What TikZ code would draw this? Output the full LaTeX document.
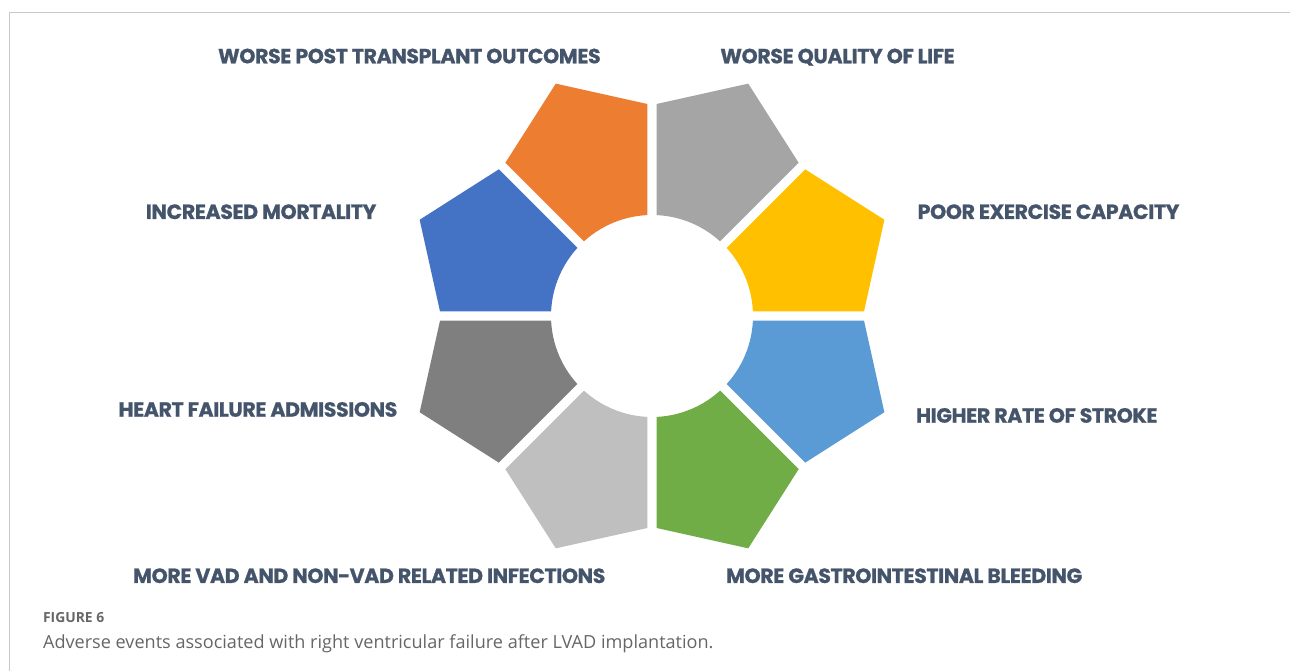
\documentclass[tikz,border=0pt]{standalone}
\usepackage{fontspec}
\usepackage{tikz}
\usetikzlibrary{calc}
\newfontfamily\labelfont{Poppins}[BoldFeatures={FakeBold=0.8, LetterSpace=-2}]
\newfontfamily\captionfont{Open Sans}
\definecolor{textblue}{HTML}{44546A}
\definecolor{framegrey}{HTML}{C8C8C8}
\definecolor{capgrey}{HTML}{666666}
\definecolor{segyellow}{HTML}{FFC000}
\definecolor{seggrey}{HTML}{A5A5A5}
\definecolor{segorange}{HTML}{ED7D31}
\definecolor{segblue}{HTML}{4472C4}
\definecolor{segdark}{HTML}{7F7F7F}
\definecolor{seglight}{HTML}{BFBFBF}
\definecolor{seggreen}{HTML}{70AD47}
\definecolor{segsky}{HTML}{5B9BD5}

\begin{document}
\begin{tikzpicture}[x=0.02cm, y=0.02cm,
    outcome/.style={font=\labelfont\bfseries\fontsize{11.7}{14}\selectfont, text=textblue, inner sep=0pt}]

    \useasboundingbox (0, 0) rectangle (1290, 671);

    \draw[framegrey, line width=0.75pt] (9.3, 0) -- (9.3, 658.3) -- (1290, 658.3);

    \foreach \ang/\col in {0/segyellow, 45/seggrey, 90/segorange, 135/segblue,
        180/segdark, 225/seglight, 270/seggreen, 315/segsky} {
        \fill[\col, shift={(652, 355)}, rotate=\ang] (100.9, 4.6) -- (212, 4.6) -- (22.5:251.5)
            -- (153.16, 146.66) -- (42.39:101) arc[start angle=42.39, end angle=2.61, radius=101] -- cycle;
    }

    \node[outcome, anchor=base east] (transplant) at (601, 607.7) {WORSE POST TRANSPLANT OUTCOMES};
    \node[outcome, anchor=base west] (quality) at (720, 607.7) {WORSE QUALITY OF LIFE};
    \node[outcome, anchor=base east] (mortality) at (376.7, 452) {INCREASED MORTALITY};
    \node[outcome, anchor=base west] (exercise) at (917.3, 452) {POOR EXERCISE CAPACITY};
    \node[outcome, anchor=base east] (admissions) at (397.7, 254.3) {HEART FAILURE ADMISSIONS};
    \node[outcome, anchor=base west] (stroke) at (915.7, 248.3) {HIGHER RATE OF STROKE};
    \node[outcome, anchor=base east] (infections) at (605.7, 88) {MORE VAD AND NON-VAD RELATED INFECTIONS};
    \node[outcome, anchor=base west] (bleeding) at (725.7, 88) {MORE GASTROINTESTINAL BLEEDING};

    \node[anchor=base west, inner sep=0pt, text=capgrey,
        font=\captionfont\bfseries\fontsize{7.9}{10}\selectfont] (figure) at (42.7, 48.7) {FIGURE 6};
    \node[anchor=base west, inner sep=0pt, text=capgrey,
        font=\captionfont\fontsize{10.3}{12}\selectfont] (caption) at (42.7, 22.7)
        {Adverse events associated with right ventricular failure after LVAD implantation.};
\end{tikzpicture}
\end{document}
